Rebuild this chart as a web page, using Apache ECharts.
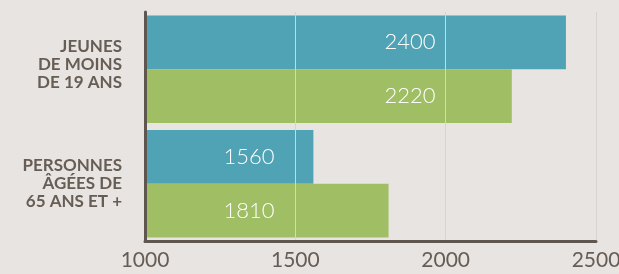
<!DOCTYPE html>
<html>
<head>
<meta charset="utf-8">
<script src="https://cdn.jsdelivr.net/npm/echarts@6/dist/echarts.min.js"></script>
<style>
  html, body { margin: 0; padding: 0; background: #e8e4e1; }
  #chart { width: 619px; height: 274px; }
</style>
</head>
<body>
<div id="chart"></div>
<script>
// données
const categories = ['JEUNES\nDE MOINS\nDE 19 ANS', 'PERSONNES\nÂGÉES DE\n65 ANS ET +']
const serieA = [2400, 1560]
const serieB = [2220, 1810]
const xTicks = [1000, 1500, 2000, 2500]

// position horizontale des étiquettes (px depuis le début de la barre), par catégorie
const labelOffset = [265, 104]

const textColor = '#665d55'

const chart = echarts.init(document.getElementById('chart'))

const makeData = (values) => values.map((v, i) => ({
  value: v,
  label: { position: [labelOffset[i], '50%'] }
}))

const barLabel = {
  show: true,
  color: '#ffffff',
  fontFamily: 'Lato',
  fontWeight: 300,
  fontSize: 22,
  align: 'center',
  verticalAlign: 'middle'
}

chart.setOption({
  backgroundColor: '#e8e4e1',
  animation: false,
  grid: { left: 145, right: 23, top: 12, bottom: 33, outerBoundsMode: 'none', containLabel: false },
  xAxis: {
    type: 'value',
    min: xTicks[0],
    max: xTicks[xTicks.length - 1],
    interval: 500,
    z: 5,
    axisLine: { show: true, onZero: false, lineStyle: { color: '#5f574f', width: 3 } },
    axisTick: { show: false },
    axisLabel: {
      color: textColor,
      fontFamily: 'Lato',
      fontSize: 21,
      margin: 9,
      formatter: (v) => String(v)
    },
    splitLine: { show: true, lineStyle: { color: '#d8d3ce', width: 1 } }
  },
  yAxis: {
    type: 'category',
    inverse: true,
    data: categories,
    z: 6,
    axisLine: { show: true, lineStyle: { color: '#5f574f', width: 3 } },
    axisTick: { show: false },
    axisLabel: {
      color: textColor,
      fontFamily: 'Lato',
      fontWeight: 'bold',
      fontSize: 17,
      lineHeight: 18,
      align: 'right',
      margin: 23,
      // le premier libellé est légèrement remonté dans la référence
      formatter: (v, i) => i === 0 ? v + '\n{s| }' : v,
      rich: { s: { lineHeight: 9, fontSize: 8 } }
    }
  },
  series: [
    {
      type: 'bar',
      data: makeData(serieA),
      barGap: 0,
      barCategoryGap: '6%',
      itemStyle: { color: '#4fa3b4' },
      label: barLabel
    },
    {
      type: 'bar',
      data: makeData(serieB),
      itemStyle: { color: '#a0be63' },
      label: barLabel
    }
  ]
})
</script>
</body>
</html>
